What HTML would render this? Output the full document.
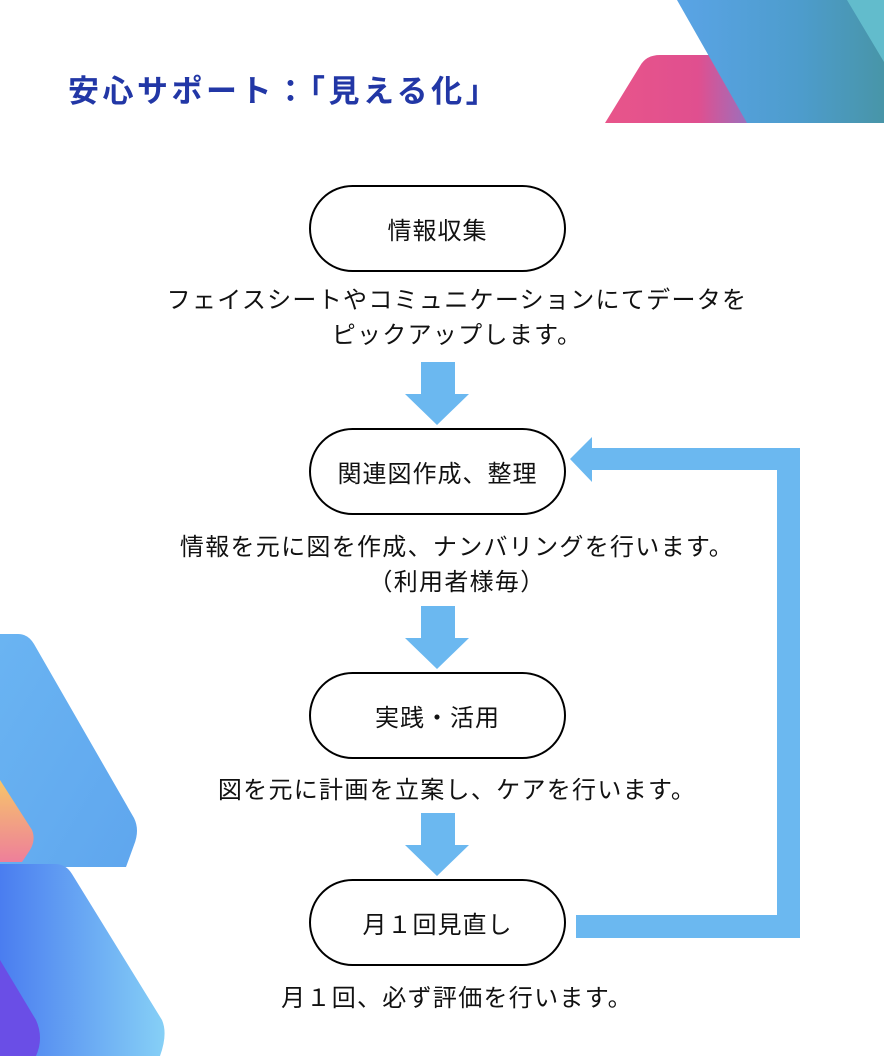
<!DOCTYPE html>
<html><head><meta charset="utf-8"><style>
body{margin:0;width:884px;height:1056px;background:#fff;position:relative;overflow:hidden;font-family:"Liberation Sans","Noto Sans CJK JP",sans-serif;}
.t{position:absolute;left:20px;width:874px;text-align:center;font-size:24px;letter-spacing:1.3px;color:#111;line-height:35px;}
.pill{position:absolute;left:309px;width:253px;height:83px;border:2px solid #000;border-radius:44px;background:#fff;display:flex;align-items:center;justify-content:center;font-size:24px;letter-spacing:1px;color:#111;}
h1{position:absolute;left:68px;top:66px;margin:0;font-size:31px;color:#2237a6;font-weight:bold;letter-spacing:3.5px;}
</style></head><body>
<svg width="884" height="1056" style="position:absolute;left:0;top:0">
<defs>
<linearGradient id="pk" x1="0" x2="1"><stop offset="0" stop-color="#e8558a"/><stop offset="0.6" stop-color="#e04f8f"/><stop offset="1" stop-color="#8a78c8"/></linearGradient>
<linearGradient id="bl" x1="0" x2="1"><stop offset="0" stop-color="#5aa4e6"/><stop offset="0.6" stop-color="#4d9ccc"/><stop offset="1" stop-color="#4895a8"/></linearGradient>
<linearGradient id="lb" x1="0" x2="1" y1="0" y2="1"><stop offset="0" stop-color="#6ab4f2"/><stop offset="1" stop-color="#5fa6ee"/></linearGradient>
<linearGradient id="lb2" x1="0" x2="1"><stop offset="0" stop-color="#4a7df0"/><stop offset="1" stop-color="#86d0f6"/></linearGradient>
<linearGradient id="or" x1="0" x2="0" y1="0" y2="1"><stop offset="0" stop-color="#f6c56a"/><stop offset="1" stop-color="#ee7f9a"/></linearGradient>
</defs>
<path d="M605 123 L640 66 Q646 55 660 55 L720 55 L760 123 Z" fill="url(#pk)"/>
<polygon points="677,0 850,0 884,60 884,123 747,123" fill="url(#bl)"/>
<polygon points="847,0 884,0 884,62" fill="#62bccc"/>
<path d="M0 634 L18 634 Q28 634 34 644 L134 818 Q140 830 134 845 L126 867 L0 867 Z" fill="url(#lb)"/>
<path d="M0 780 L32 830 Q36 840 30 850 L22 862 L0 862 Z" fill="url(#or)"/>
<path d="M0 864 L55 864 Q66 864 72 874 L162 1020 Q168 1034 160 1056 L0 1056 Z" fill="url(#lb2)"/>
<path d="M0 960 L36 1020 Q44 1038 36 1056 L0 1056 Z" fill="#6a4ee6"/>
<g fill="#6bb8f0">
<polygon points="421,362 455,362 455,394 469,394 437,425 405,394 421,394"/>
<polygon points="421,606 455,606 455,638 469,638 437,669 405,638 421,638"/>
<polygon points="421,813 455,813 455,845 469,845 437,876 405,845 421,845"/>
<polygon points="576,915 777,915 777,470 592,470 592,482 570,459 592,437 592,448 800,448 800,938 576,938"/>
</g>
</svg>
<h1>安心サポート：「見える化」</h1>
<div class="pill" style="top:185px">情報収集</div>
<div class="t" style="top:283px">フェイスシートやコミュニケーションにてデータを<br>ピックアップします。</div>
<div class="pill" style="top:428px">関連図作成、整理</div>
<div class="t" style="top:530px">情報を元に図を作成、ナンバリングを行います。<br>（利用者様毎）</div>
<div class="pill" style="top:672px">実践・活用</div>
<div class="t" style="top:773px">図を元に計画を立案し、ケアを行います。</div>
<div class="pill" style="top:879px">月１回見直し</div>
<div class="t" style="top:981px">月１回、必ず評価を行います。</div>
</body></html>
